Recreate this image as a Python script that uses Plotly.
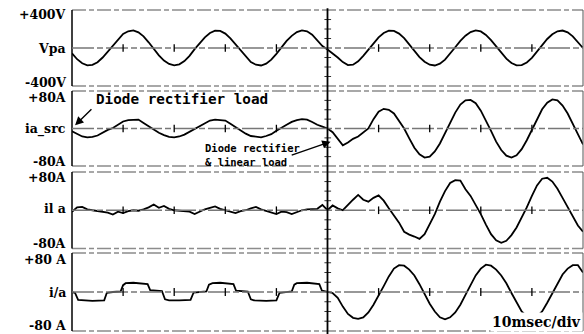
import plotly.graph_objects as go

# sample instants, ms (10 ms per division, 10 divisions)
time_ms = list(range(0, 101))

# source phase voltage Vpa, V
vpa = [-55, -118, -160, -182, -178, -150, -100, -35, 30, 95,
       148, 176, 186, 165, 122, 60, -10, -78, -132, -168,
       -182, -172, -138, -82, -12, 55, 112, 158, 182, 180,
       152, 102, 38, -30, -95, -148, -176, -184, -165, -122,
       -62, 8, 75, 128, 168, 185, 176, 140, 82, 20,
       -15, -55, -100, -148, -180, -175, -140, -82, -15, 52,
       112, 158, 182, 180, 152, 104, 40, -30, -95, -145,
       -176, -184, -165, -122, -62, 8, 75, 130, 168, 185,
       175, 138, 82, 18, -52, -112, -158, -182, -180, -152,
       -104, -40, 30, 95, 145, 176, 184, 165, 122, 62, 0]

# source current ia_src, A
ia_src = [-6, -12, -17, -19, -18, -15, -9, -3, 1, 8,
          15, 18, 19, 19, 12, 5, -2, -9, -14, -18,
          -19, -17, -13, -7, -1, 6, 12, 17, 19, 18,
          17, 10, 3, -4, -11, -16, -18, -19, -16, -12,
          -5, 2, 8, 14, 18, 20, 19, 14, 8, 4,
          0, -8, -22, -36, -30, -22, -17, -9, 0, 20,
          36, 42, 40, 32, 15, 0, -21, -41, -55, -62,
          -60, -49, -32, -10, 13, 34, 51, 60, 61, 54,
          38, 18, -5, -28, -46, -58, -62, -57, -44, -25,
          -2, 21, 41, 55, 62, 60, 49, 32, 10, -13, -34]

# load current il_a, A
il_a = [-3, 6, 7, 2, 0, -2, -3, -5, -9, -3,
        -6, -2, 0, -1, 2, 6, 12, 5, 9, 3,
        0, -1, -2, -3, -8, -3, 2, 5, 8, 3,
        0, -4, -6, -2, 0, 4, 7, 2, -1, -5,
        -8, -3, -4, -8, -4, 0, 2, 2, 3, 11,
        0, 10, 4, 0, 12, 22, 32, 22, 18, 26,
        31, 20, 4, -10, -26, -45, -51, -55, -60, -50,
        -30, -8, 18, 40, 57, 63, 62, 44, 30, 12,
        -8, -30, -50, -63, -68, -64, -52, -36, -16, 6,
        30, 52, 66, 68, 60, 45, 26, 6, -14, -32, -45]

# filter current i/a: stepped section, then sinusoidal section
ifa_time = [0, 0.6, 1.2, 2, 4, 6.3, 6.8, 8, 9.5, 10.0, 10.5, 12, 13.5, 14.8,
            15.3, 16, 17.6, 18.2, 19, 21, 23.2, 23.8, 25, 26.3, 26.8, 27.5,
            29, 30.5, 31.6, 32.1, 33, 34.4, 35.0, 35.6, 38, 40, 40.6, 42, 43,
            43.5, 44, 46, 47.5, 48.4, 48.9, 49.5, 50,
            51, 52, 53, 54, 55, 56, 57, 58, 59, 60,
            61, 62, 63, 64, 65, 66, 67, 68, 69, 70,
            71, 72, 73, 74, 75, 76, 77, 78, 79, 80,
            81, 82, 83, 84, 85, 86, 87, 88, 89, 90,
            91, 92, 93, 94, 95, 96, 97, 98, 99, 100]
ifa = [0, -2, -16, -17, -18, -17, -2, 0, 1, 14, 18, 19, 18, 16,
       4, 3, 2, -15, -17, -17, -16, -1, 0, 1, 15, 18,
       19, 18, 16, 3, 2, 1, -15, -17, -18, -17, -2, 0, 1,
       15, 18, 19, 18, 16, 3, 1, 0,
       -2, -12, -30, -45, -53, -55, -52, -42, -26, -8,
       12, 32, 48, 55, 54, 46, 34, 16, -4, -24,
       -40, -52, -56, -52, -42, -26, -6, 14, 34, 48,
       56, 54, 46, 34, 18, -2, -22, -40, -50, -53,
       -50, -40, -22, -2, 18, 36, 48, 55, 55, 40]

panel_ranges = [400, 80, 80, 80]
panel_domains = [[0.7425, 0.970], [0.503, 0.7275], [0.256, 0.485], [0.009, 0.2425]]
div_marks = [10, 20, 30, 40, 60, 70, 80, 90]

fig = go.Figure()
series = [(time_ms, vpa), (time_ms, ia_src), (time_ms, il_a), (ifa_time, ifa)]
for i, (tx, vy) in enumerate(series):
    s = "" if i == 0 else str(i + 1)
    fig.add_trace(go.Scatter(x=tx, y=vy, mode="lines", xaxis="x" + s, yaxis="y" + s,
                             line=dict(color="black", width=1.8), showlegend=False,
                             hoverinfo="skip"))

layout = dict(width=584, height=334, margin=dict(l=72, r=1, t=0, b=0),
              paper_bgcolor="white", plot_bgcolor="white", showlegend=False)
shapes = []
for i in range(4):
    s = "" if i == 0 else str(i + 1)
    r = panel_ranges[i]
    layout["xaxis" + s] = dict(domain=[0, 1], range=[0, 100], visible=False,
                               anchor="y" + s, **({} if i == 0 else {"matches": "x"}))
    layout["yaxis" + s] = dict(domain=panel_domains[i], range=[-r, r], visible=False,
                               anchor="x" + s)
    xd, yd = "x" + s + " domain", "y" + s + " domain"
    grey = dict(color="#8c8c8c", width=1.6, dash="14px,3px,5px,3px")
    shapes.append(dict(type="line", xref=xd, yref=yd, x0=0, x1=1, y0=1, y1=1, line=grey))
    shapes.append(dict(type="line", xref=xd, yref=yd, x0=0, x1=1, y0=0, y1=0, line=grey))
    shapes.append(dict(type="line", xref=xd, yref=yd, x0=0, x1=0, y0=0, y1=1,
                       line=dict(color="black", width=1.5)))
    shapes.append(dict(type="line", xref=xd, yref=yd, x0=1, x1=1, y0=0, y1=1,
                       line=dict(color="#555", width=1)))
    shapes.append(dict(type="line", xref=xd, yref="y" + s, x0=0, x1=1, y0=0, y1=0,
                       line=dict(color="#777", width=1.3, dash="22px,3px,6px,3px")))
    for t in div_marks:
        shapes.append(dict(type="line", xref="x" + s, yref=yd, x0=t, x1=t, y0=0.45, y1=0.55,
                           line=dict(color="black", width=1.3)))
    for f in [-0.75, -0.5, -0.25, 0.25, 0.5, 0.75]:
        shapes.append(dict(type="line", xref="x" + s, yref="y" + s, x0=49.4, x1=50.7,
                           y0=f * r, y1=f * r, line=dict(color="#333", width=1)))

shapes.append(dict(type="line", xref="x", yref="paper", x0=50, x1=50, y0=0, y1=0.975,
                   line=dict(color="black", width=1.8)))
layout["shapes"] = shapes

serif = dict(family="DejaVu Serif", size=12.5, color="black")
labels = [("+400V", 14), ("Vpa", 48), ("-400V", 82),
          ("+80A", 97), ("ia_src", 129), ("-80A", 162),
          ("+80A", 177), ("il a", 208), ("-80A", 243),
          ("+80 A", 259), ("i/a", 292), ("-80 A", 325)]
ann = []
for text, py in labels:
    ann.append(dict(text="<b>" + text + "</b>", xref="paper", yref="paper", x=0,
                    y=1 - py / 334, xanchor="right", yanchor="middle", xshift=-4,
                    showarrow=False, font=serif))

ann.append(dict(text="<b>Diode rectifier load</b>", xref="x2", yref="paper", x=4.4,
                y=1 - 99 / 334, xanchor="left", yanchor="middle", showarrow=False,
                font=dict(family="DejaVu Sans Mono", size=14.3, color="black")))
ann.append(dict(text="", xref="x2", yref="y2", x=0.6, y=7, axref="x2", ayref="y2",
                ax=4.1, ay=44, showarrow=True, arrowhead=2, arrowsize=1.2,
                arrowwidth=1.4, arrowcolor="black"))
ann.append(dict(text="<b>Diode rectifier<br>&amp; linear load</b>", xref="x2", yref="paper",
                x=25.6, y=1 - 155.5 / 334, xanchor="left", yanchor="middle", align="left",
                showarrow=False,
                font=dict(family="DejaVu Sans Mono", size=10.5, color="black")))
ann.append(dict(text="", xref="x2", yref="y2", x=50.6, y=-28, axref="x2", ayref="y2",
                ax=42.7, ay=-58, showarrow=True, arrowhead=2, arrowsize=1.2,
                arrowwidth=1.4, arrowcolor="black"))
ann.append(dict(text="<b>10msec/div</b>", xref="paper", yref="paper", x=1, y=1 - 322 / 334,
                xanchor="right", yanchor="middle", showarrow=False, bgcolor="white",
                font=dict(family="DejaVu Serif", size=14, color="black")))
layout["annotations"] = ann

fig.update_layout(**layout)
fig.write_html("out.html")
